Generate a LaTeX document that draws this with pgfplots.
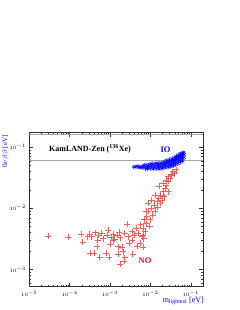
\documentclass[border=0pt]{standalone}
\usepackage{pgfplots}
\pgfplotsset{compat=1.18}
\usepackage{fontspec}
\setmainfont{Liberation Serif}
\definecolor{rootblue}{RGB}{0,0,255}
\definecolor{rootred}{RGB}{255,0,0}
\definecolor{lightred}{RGB}{255,90,90}
\begin{document}
\begin{tikzpicture}[x=1pt,y=1pt]
\useasboundingbox (0,0) rectangle (240,310);
\begin{axis}[
  at={(29.3pt,23.3pt)}, anchor=south west,
  scale only axis, width=174pt, height=154pt,
  xmode=log, ymode=log,
  xmin=1e-5, xmax=0.204, ymin=5.2e-4, ymax=0.173,
  tick align=inside, xtick pos=both, ytick pos=both,
  major tick length=4pt, minor tick length=2pt,
  axis line style={line width=0.5pt, black!80},
  every tick/.style={black!80, line width=0.4pt},
  ticklabel style={font=\fontsize{5.5}{6}\selectfont},
  xticklabel style={yshift=-1pt},
  clip=true,
]
\addplot[black!35, line width=0.5pt, forget plot] coordinates {(1e-5,0.061) (0.204,0.061)};
\addplot[black!35, line width=0.5pt, forget plot] coordinates {(1e-5,0.165) (0.204,0.165)};
% IO
\addplot[only marks, mark=asterisk, mark size=2.4pt, color=rootblue, mark options={draw=rootblue, line width=0.4pt}] table {
x y
0.0039 0.048
0.0042 0.047
0.0046 0.049
0.0051 0.048
0.0055 0.047
0.0060 0.046
0.0062 0.049
0.0066 0.047
0.0070 0.051
0.0075 0.045
0.0078 0.048
0.0080 0.052
0.0085 0.044
0.0088 0.047
0.0090 0.050
0.0095 0.053
0.0100 0.045
0.0104 0.048
0.0107 0.051
0.0110 0.054
0.0118 0.044
0.0122 0.047
0.0126 0.050
0.0130 0.053
0.0138 0.055
0.0142 0.045
0.0148 0.048
0.0152 0.051
0.0158 0.054
0.0165 0.044
0.0170 0.047
0.0175 0.050
0.0180 0.053
0.0185 0.056
0.0195 0.045
0.0200 0.048
0.0205 0.051
0.0210 0.054
0.0215 0.057
0.0230 0.046
0.0235 0.049
0.0240 0.052
0.0245 0.055
0.0250 0.058
0.0255 0.061
0.0275 0.047
0.0280 0.050
0.0285 0.053
0.0290 0.056
0.0295 0.059
0.0300 0.063
0.0320 0.048
0.0325 0.051
0.0330 0.054
0.0335 0.057
0.0340 0.061
0.0345 0.065
0.0370 0.050
0.0375 0.053
0.0380 0.057
0.0385 0.061
0.0390 0.065
0.0395 0.068
0.0420 0.052
0.0425 0.056
0.0430 0.060
0.0435 0.064
0.0440 0.068
0.0445 0.072
0.0480 0.054
0.0485 0.058
0.0490 0.063
0.0495 0.067
0.0500 0.071
0.0505 0.076
0.0550 0.057
0.0555 0.061
0.0560 0.066
0.0565 0.071
0.0570 0.075
0.0575 0.080
0.0620 0.060
0.0625 0.065
0.0630 0.070
0.0635 0.075
0.0640 0.079
0.0650 0.083
0.0670 0.068
0.0680 0.077
};
% NO
\addplot[only marks, mark=+, mark size=3pt, color=lightred, mark options={draw=lightred, line width=0.5pt}] table {
x y
2.95e-5 3.55e-3
9.3e-5 3.35e-3
1.9e-4 3.8e-3
2.1e-4 2.8e-3
3.1e-4 3.8e-3
3.5e-4 3.45e-3
4.3e-4 4.0e-3
5.1e-4 3.6e-3
6.2e-4 3.9e-3
4.9e-4 3.0e-3
3.2e-4 1.86e-3
4.0e-4 1.86e-3
4.7e-4 2.35e-3
5.5e-4 1.58e-3
8.0e-4 1.86e-3
9.3e-4 1.6e-3
8.3e-4 3.6e-3
9.1e-4 4.4e-3
1.05e-3 3.3e-3
1.2e-3 3.8e-3
1.3e-3 3.1e-3
1.0e-3 2.6e-3
1.2e-3 2.95e-3
1.5e-3 3.6e-3
1.7e-3 4.1e-3
1.6e-3 2.35e-3
1.8e-3 3.3e-3
2.0e-3 2.3e-3
2.1e-3 1.95e-3
2.3e-3 1.55e-3
2.2e-3 1.38e-3
1.8e-3 1.22e-3
2.3e-3 3.9e-3
2.6e-3 5.5e-3
2.8e-3 3.45e-3
3.0e-3 2.7e-3
3.45e-3 4.15e-3
3.6e-3 1.8e-3
4.0e-3 3.6e-3
4.4e-3 4.7e-3
4.6e-3 2.4e-3
5.0e-3 3.9e-3
5.5e-3 2.7e-3
5.7e-3 5.4e-3
6.5e-3 2.3e-3
6.5e-3 3.6e-3
6.7e-3 4.7e-3
7.0e-3 6.5e-3
6.1e-3 3.45e-3
7.4e-3 4.15e-3
7.8e-3 5.6e-3
8.1e-3 7.3e-3
8.9e-3 8.9e-3
9.8e-3 6.5e-3
1.07e-2 1.0e-2
1.14e-2 7.8e-3
1.23e-2 1.12e-2
1.3e-2 8.9e-3
1.44e-2 1.29e-2
1.5e-2 1.05e-2
1.6e-2 1.45e-2
1.74e-2 1.2e-2
1.8e-2 1.65e-2
1.95e-2 1.38e-2
2.1e-2 1.87e-2
2.2e-2 1.55e-2
2.35e-2 2.13e-2
2.5e-2 2.4e-2
2.7e-2 1.87e-2
2.8e-2 2.75e-2
3.1e-2 3.1e-2
3.3e-2 3.5e-2
3.55e-2 4.0e-2
4.0e-2 3.7e-2
4.3e-2 4.3e-2
8.9e-3 1.2e-2
1.07e-2 1.38e-2
1.3e-2 1.65e-2
1.66e-2 2.3e-2
2.04e-2 2.6e-2
2.45e-2 2.9e-2
2.8e-2 3.3e-2
3.2e-2 3.6e-2
7.8e-3 8.9e-3
9.5e-3 5.1e-3
6.8e-3 3.2e-3
3.45e-3 3.0e-3
1.6e-3 1.8e-3
2.8e-4 3.45e-3
6.8e-4 3.2e-3
};
\end{axis}
\node[font=\fontsize{8}{9}\selectfont\bfseries, anchor=center] at (90,161) {KamLAND-Zen (\textsuperscript{136}Xe)};
\node[font=\fontsize{8.5}{9}\selectfont\bfseries, text=rootblue] at (165.5,160) {IO};
\node[font=\fontsize{8.5}{9}\selectfont\bfseries, text=rootred] at (145,49) {NO};
\node[font=\fontsize{7}{8}\selectfont, text=rootblue, rotate=90, anchor=north east, inner sep=0pt] at (2,175) {0$\nu\beta\beta$ [eV]};
\node[font=\fontsize{8}{9}\selectfont, text=rootblue, anchor=base east, inner sep=0pt] at (204,8) {m\textsubscript{lightest} [eV]};
\end{tikzpicture}
\end{document}
